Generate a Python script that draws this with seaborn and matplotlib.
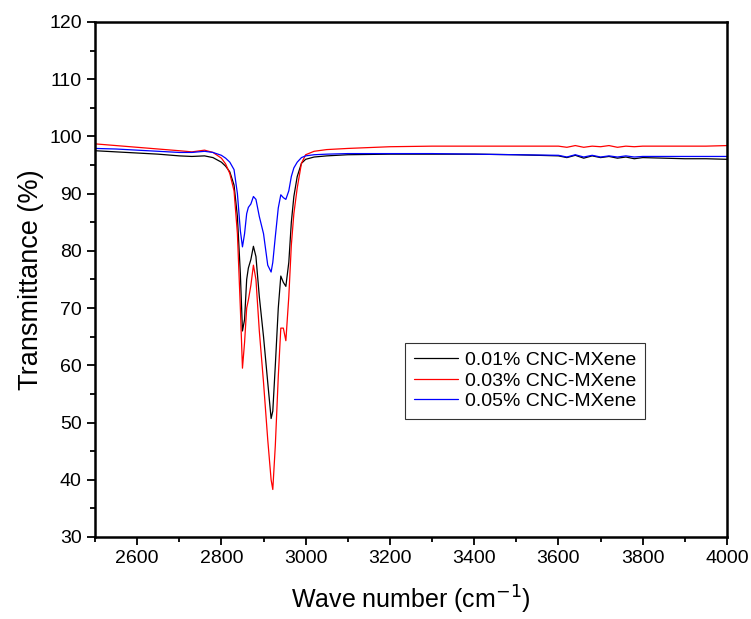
import seaborn as sns
import pandas as pd
import matplotlib.pyplot as plt
from matplotlib.ticker import MultipleLocator

wavenumber = [2500, 2550, 2600, 2650, 2700, 2730, 2760, 2780, 2800, 2810,
              2820, 2830, 2838, 2845, 2850, 2855, 2860, 2864, 2870, 2876,
              2882, 2890, 2900, 2910, 2918, 2922, 2928, 2935, 2941, 2947,
              2953, 2960, 2966, 2972, 2980, 2990, 3000, 3020, 3050, 3100,
              3200, 3300, 3400, 3500, 3600, 3620, 3640, 3660, 3680, 3700,
              3720, 3740, 3760, 3780, 3800, 3850, 3900, 3950, 4000]

t_001 = [97.5, 97.3, 97.1, 96.9, 96.6, 96.5, 96.6, 96.3, 95.5, 94.8,
         93.8, 91.5, 86.0, 76.0, 66.0, 68.0, 75.0, 77.0, 78.5, 80.8,
         79.0, 72.0, 65.0, 57.0, 50.7, 52.0, 60.0, 70.0, 75.6, 74.5,
         73.8, 78.0, 85.0, 89.5, 93.0, 95.3, 96.0, 96.4, 96.6, 96.8,
         96.9, 96.9, 96.9, 96.8, 96.6, 96.3, 96.7, 96.2, 96.6, 96.3,
         96.5, 96.2, 96.4, 96.1, 96.3, 96.2, 96.1, 96.1, 96.0]

t_003 = [98.7, 98.4, 98.1, 97.8, 97.5, 97.3, 97.6, 97.2, 96.2, 95.2,
         93.5, 90.5, 83.0, 70.0, 59.5, 64.0, 70.0, 71.4, 74.0, 77.5,
         75.0, 66.0, 57.0, 47.0, 40.0, 38.3, 46.0, 58.0, 66.5, 66.5,
         64.3, 72.0, 81.0, 86.5, 91.0, 95.3, 96.8, 97.4, 97.7, 97.9,
         98.2, 98.3, 98.3, 98.3, 98.3, 98.1, 98.4, 98.1, 98.3, 98.2,
         98.4, 98.1, 98.3, 98.2, 98.3, 98.3, 98.3, 98.3, 98.4]

t_005 = [97.9, 97.8, 97.6, 97.4, 97.2, 97.2, 97.4, 97.2, 96.7, 96.2,
         95.5, 94.2, 90.0, 83.5, 80.7, 83.0, 86.5, 87.6, 88.2, 89.5,
         89.0, 86.0, 83.0, 77.5, 76.3, 78.0, 82.5, 87.5, 89.8, 89.3,
         89.0, 90.5, 93.0, 94.5, 95.5, 96.3, 96.6, 96.8, 96.9, 97.0,
         97.0, 97.0, 96.9, 96.8, 96.7, 96.4, 96.8, 96.4, 96.7, 96.4,
         96.6, 96.4, 96.6, 96.4, 96.5, 96.5, 96.5, 96.5, 96.5]

labels = ["0.01% CNC-MXene", "0.03% CNC-MXene", "0.05% CNC-MXene"]

frames = []
for lab, vals in zip(labels, [t_001, t_003, t_005]):
    frames.append(pd.DataFrame({"wn": wavenumber, "T": vals, "sample": lab}))
df = pd.concat(frames, ignore_index=True)

sns.set_style("white")
plt.rcParams["font.family"] = ["Liberation Sans", "DejaVu Sans"]
plt.rcParams["text.color"] = "black"

fig = plt.figure(figsize=(7.51, 6.19), dpi=100)
ax = fig.add_axes([0.1265, 0.1325, 0.8415, 0.832])

sns.lineplot(data=df, x="wn", y="T", hue="sample",
             palette=["black", "red", "blue"], linewidth=0.9,
             sort=False, ax=ax)

ax.set_xlim(2500, 4000)
ax.set_ylim(30, 120)
ax.xaxis.set_major_locator(MultipleLocator(200))
ax.xaxis.set_minor_locator(MultipleLocator(100))
ax.yaxis.set_major_locator(MultipleLocator(10))
ax.yaxis.set_minor_locator(MultipleLocator(5))
ax.set_xticks(range(2600, 4001, 200))
ax.tick_params(which="major", direction="out", length=6, width=1.3,
               labelsize=14, colors="black",
               bottom=True, left=True, top=False, right=False)
ax.tick_params(which="minor", direction="out", length=3.5, width=1.3,
               colors="black", bottom=True, left=True, top=False, right=False)
for s in ax.spines.values():
    s.set_linewidth(1.8)
    s.set_color("black")

ax.set_xlabel("Wave number (cm$^{-1}$)", fontsize=18, labelpad=12,
              color="black")
ax.set_ylabel("Transmittance (%)", fontsize=19.5, labelpad=4, color="black")

leg = ax.legend(loc="upper left", bbox_to_anchor=(0.4905, 0.377),
                fontsize=14, frameon=True, fancybox=False,
                edgecolor="black", handlelength=2.3, borderpad=0.45,
                labelspacing=0.15, handletextpad=0.35, borderaxespad=0)
leg.get_frame().set_linewidth(0.8)

fig.savefig("out.png", dpi=100)
